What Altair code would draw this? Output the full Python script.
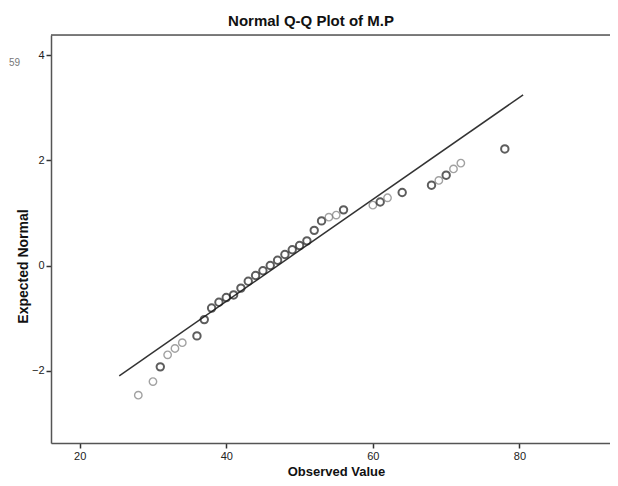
import altair as alt
import pandas as pd

# ---- data ----
title_text = "Normal Q-Q Plot of M.P"
stray_text = "59"
x_title = "Observed Value"
y_title = "Expected Normal"

observed = [28, 30, 31, 32, 33, 34, 36, 37, 38, 39, 40, 41, 42, 43, 44, 45, 46, 47, 48,
            49, 50, 51, 52, 53, 54, 55, 56, 60, 61, 62, 64, 68, 69, 70, 71, 72, 78]
expected = [-2.47, -2.21, -1.93, -1.70, -1.58, -1.47, -1.34, -1.03, -0.81, -0.70, -0.61,
            -0.56, -0.43, -0.30, -0.19, -0.10, 0.00, 0.10, 0.21, 0.30, 0.38, 0.47, 0.67,
            0.85, 0.92, 0.96, 1.06, 1.15, 1.21, 1.29, 1.39, 1.53, 1.62, 1.72, 1.84, 1.95, 2.22]
# 2 = overlapping (darker) circles, 1 = single circle
ties = [1, 1, 2, 1, 1, 1, 2, 2, 2, 2, 2, 2, 2, 2, 2, 2, 2, 2, 2, 2, 2, 2, 2, 2, 1, 1, 2,
        1, 2, 1, 2, 2, 1, 2, 1, 1, 2]

line_x = [25.4, 80.5]
line_y = [-2.10, 3.25]

x_ticks = [20, 40, 60, 80]
y_ticks = [-2, 0, 2, 4]
x_domain = [16.09, 92.35]
y_domain = [-3.38, 4.39]

pts = pd.DataFrame({"obs": observed, "exp": expected, "ties": ties})
ref = pd.DataFrame({"obs": line_x, "exp": line_y})

W, H = 559, 408

xs = alt.Scale(domain=x_domain, nice=False, zero=False)
ys = alt.Scale(domain=y_domain, nice=False, zero=False)

common = dict(grid=False, domain=True, domainColor="#555", domainWidth=1.5,
              tickSize=5, tickWidth=1.5, tickColor="#333", labelFontSize=11,
              labelColor="#222", labelFont="Liberation Sans", labelPadding=2,
              titleFont="Liberation Sans", titleFontWeight="bold",
              titleColor="#111", titleAlign="center", format="d")

x_axis = alt.Axis(values=x_ticks, title=x_title, titleX=285, titleY=32, titleFontSize=13,
                  titleBaseline="alphabetic", **common)
y_axis = alt.Axis(values=y_ticks, title=y_title, titleX=-28, titleY=231, titleAngle=-90,
                  titleFontSize=14, titleBaseline="middle", **common)

line = alt.Chart(ref).mark_line(color="#333", strokeWidth=1.5).encode(
    x=alt.X("obs:Q", scale=xs, axis=x_axis),
    y=alt.Y("exp:Q", scale=ys, axis=y_axis),
)

points = alt.Chart(pts).mark_point(shape="circle", filled=False, size=55).encode(
    x=alt.X("obs:Q", scale=xs),
    y=alt.Y("exp:Q", scale=ys),
    stroke=alt.Stroke("ties:O", scale=alt.Scale(domain=[1, 2], range=["#7a7a7a", "#1a1a1a"]),
                      legend=None),
    strokeWidth=alt.StrokeWidth("ties:O", scale=alt.Scale(domain=[1, 2], range=[1.4, 2.0]),
                                legend=None),
)

top_border = alt.Chart(pd.DataFrame({"t": [0]})).mark_rule(
    color="#555", strokeWidth=1.5
).encode(x=alt.value(0), x2=alt.value(W), y=alt.value(0))

title = alt.Chart(pd.DataFrame({"t": [title_text]})).mark_text(
    font="Liberation Sans", fontSize=15, fontWeight="bold", color="#111",
    align="center", baseline="alphabetic"
).encode(x=alt.value(260), y=alt.value(-9), text="t:N")

stray = alt.Chart(pd.DataFrame({"t": [stray_text]})).mark_text(
    font="Liberation Sans", fontSize=10, color="#777", align="left", baseline="middle"
).encode(x=alt.value(-42), y=alt.value(28), text="t:N")

chart = alt.layer(line, points, top_border, title, stray).properties(
    width=W, height=H,
    autosize=alt.AutoSizeParams(type="none"),
    padding={"left": 43, "top": 27, "right": 0, "bottom": 35},
).configure_view(
    fill="#f0f0f0", stroke=None
).configure(background="white")

chart.save("out.html", embed_options={"renderer": "svg", "actions": False})
